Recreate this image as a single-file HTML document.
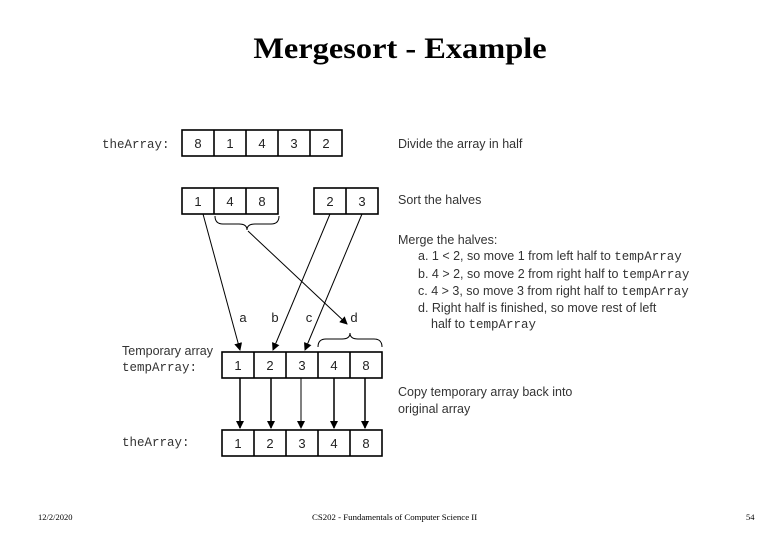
<!DOCTYPE html>
<html><head><style>
body{margin:0;width:780px;height:540px;background:#fff;position:relative;font-family:"Liberation Sans",sans-serif;overflow:hidden}
.t{position:absolute;white-space:nowrap}
.m{font-family:"Liberation Mono",monospace}
</style></head><body>
<div class="t" style="left:0;width:800px;top:32px;text-align:center;font-family:'Liberation Serif',serif;font-size:30px;font-weight:bold;transform:scaleX(1.08);transform-origin:400px 0;">Mergesort - Example</div>
<svg width="780" height="540" style="position:absolute;left:0;top:0" font-family="Liberation Sans, sans-serif">
<defs><marker id="a" markerWidth="8" markerHeight="8" refX="7" refY="4" orient="auto" markerUnits="userSpaceOnUse"><path d="M0,0 L8,4 L0,8z" fill="#000"/></marker></defs>
<g fill="none" stroke="#000" stroke-width="1.6">
<rect x="182" y="130" width="160" height="26"/>
<line x1="214" y1="130" x2="214" y2="156"/><line x1="246" y1="130" x2="246" y2="156"/><line x1="278" y1="130" x2="278" y2="156"/><line x1="310" y1="130" x2="310" y2="156"/>
<rect x="182" y="188" width="96" height="26"/><line x1="214" y1="188" x2="214" y2="214"/><line x1="246" y1="188" x2="246" y2="214"/>
<rect x="314" y="188" width="64" height="26"/><line x1="346" y1="188" x2="346" y2="214"/>
<rect x="222" y="352" width="160" height="26"/>
<line x1="254" y1="352" x2="254" y2="378"/><line x1="286" y1="352" x2="286" y2="378"/><line x1="318" y1="352" x2="318" y2="378"/><line x1="350" y1="352" x2="350" y2="378"/>
<rect x="222" y="430" width="160" height="26"/>
<line x1="254" y1="430" x2="254" y2="456"/><line x1="286" y1="430" x2="286" y2="456"/><line x1="318" y1="430" x2="318" y2="456"/><line x1="350" y1="430" x2="350" y2="456"/>
</g>
<g fill="none" stroke="#000" stroke-width="1">
<path d="M215,216 q0,8 8,8 h16 q8,0 8,6 q0,-6 8,-6 h16 q8,0 8,-8"/>
<path d="M318,347 q0,-8 8,-8 h16 q8,0 8,-6 q0,6 8,6 h16 q8,0 8,8"/>
<line x1="203" y1="214" x2="240" y2="350" marker-end="url(#a)"/>
<line x1="330" y1="214" x2="273" y2="350" marker-end="url(#a)"/>
<line x1="362" y1="214" x2="305" y2="350" marker-end="url(#a)"/>
<line x1="248" y1="231" x2="347" y2="324" marker-end="url(#a)"/>
<line x1="240" y1="378" x2="240" y2="428" marker-end="url(#a)" stroke-width="1.5"/>
<line x1="271" y1="378" x2="271" y2="428" marker-end="url(#a)" stroke-width="1.5"/>
<line x1="301" y1="378" x2="301" y2="428" marker-end="url(#a)"/>
<line x1="334" y1="378" x2="334" y2="428" marker-end="url(#a)" stroke-width="1.5"/>
<line x1="365" y1="378" x2="365" y2="428" marker-end="url(#a)" stroke-width="1.5"/>
</g>
<g font-size="13" text-anchor="middle" fill="#222">
<text x="198" y="148">8</text><text x="230" y="148">1</text><text x="262" y="148">4</text><text x="294" y="148">3</text><text x="326" y="148">2</text>
<text x="198" y="206">1</text><text x="230" y="206">4</text><text x="262" y="206">8</text><text x="330" y="206">2</text><text x="362" y="206">3</text>
<text x="238" y="370">1</text><text x="270" y="370">2</text><text x="302" y="370">3</text><text x="334" y="370">4</text><text x="366" y="370">8</text>
<text x="238" y="448">1</text><text x="270" y="448">2</text><text x="302" y="448">3</text><text x="334" y="448">4</text><text x="366" y="448">8</text>
<text x="243" y="322">a</text><text x="275" y="322">b</text><text x="309" y="322">c</text><text x="354" y="322">d</text>
</g>
</svg>
<div class="t m" style="left:102px;top:138px;font-size:12.5px;color:#333">theArray:</div>
<div class="t" style="left:122px;top:344px;font-size:12.5px;color:#333">Temporary array</div>
<div class="t m" style="left:122px;top:361px;font-size:12.5px;color:#333">tempArray:</div>
<div class="t m" style="left:122px;top:436px;font-size:12.5px;color:#333">theArray:</div>
<div class="t" style="left:398px;top:137px;font-size:12.5px;color:#333">Divide the array in half</div>
<div class="t" style="left:398px;top:193px;font-size:12.5px;color:#333">Sort the halves</div>
<div class="t" style="left:398px;top:232px;font-size:12.5px;color:#333;line-height:16.3px">Merge the halves:<br>
<span style="margin-left:20px">a. 1 &lt; 2, so move 1 from left half to <span class="m">tempArray</span></span><br>
<span style="margin-left:20px">b. 4 &gt; 2, so move 2 from right half to <span class="m">tempArray</span></span><br>
<span style="margin-left:20px">c. 4 &gt; 3, so move 3 from right half to <span class="m">tempArray</span></span><br>
<span style="margin-left:20px">d. Right half is finished, so move rest of left</span><br>
<span style="margin-left:33px">half to <span class="m">tempArray</span></span></div>
<div class="t" style="left:398px;top:384px;font-size:12.5px;color:#333;line-height:16.5px">Copy temporary array back into<br>original array</div>
<div class="t" style="left:38px;top:512px;font-size:8.5px;font-family:'Liberation Serif',serif">12/2/2020</div>
<div class="t" style="left:312px;top:512px;font-size:8.8px;font-family:'Liberation Serif',serif">CS202 - Fundamentals of Computer Science II</div>
<div class="t" style="left:746px;top:512px;font-size:8.5px;font-family:'Liberation Serif',serif">54</div>
</body></html>
